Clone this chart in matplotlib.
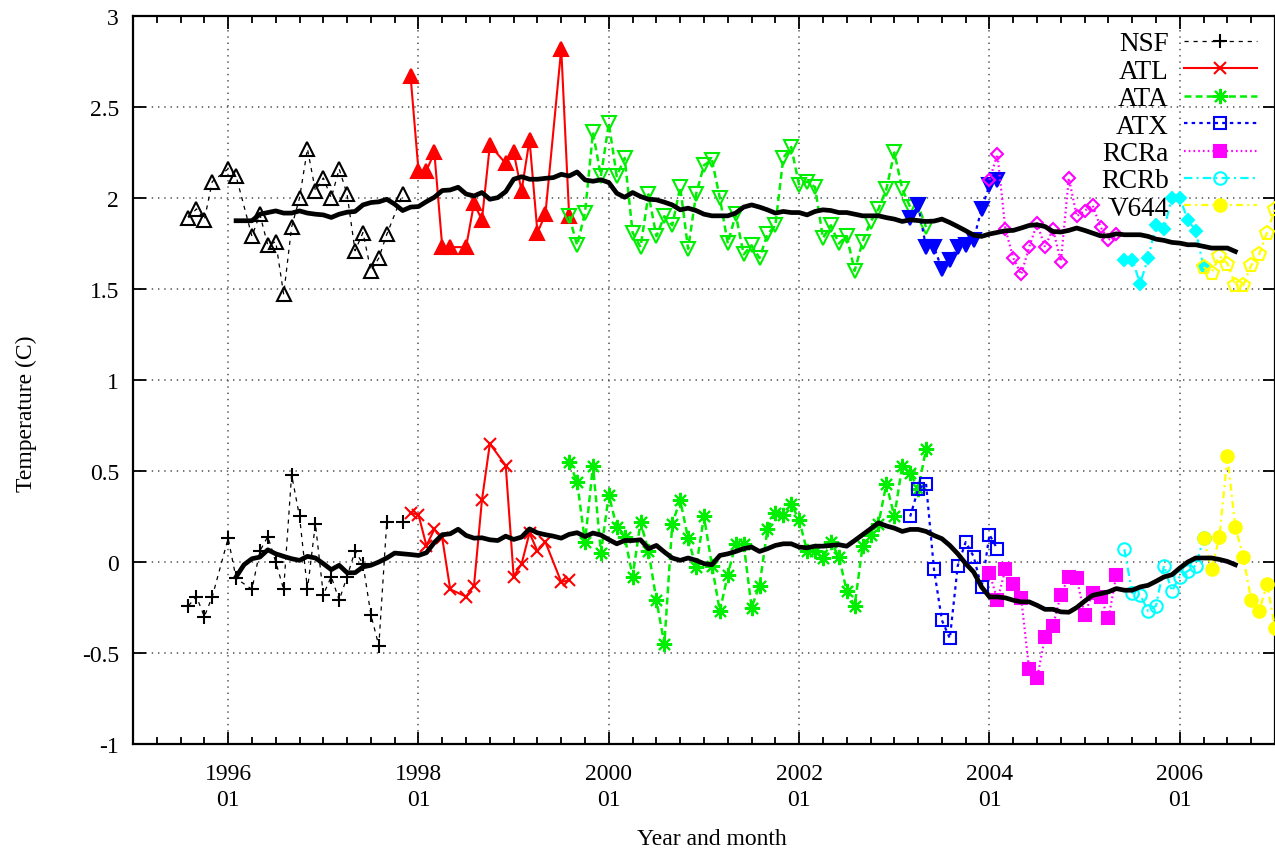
import numpy as np
import matplotlib.pyplot as plt
from matplotlib.ticker import MultipleLocator, FormatStrFormatter

plt.rcParams['font.family'] = ['Liberation Serif', 'DejaVu Serif']
plt.rcParams['lines.scale_dashes'] = False

# months counted from 1996-01 (0 = Jan 1996)
nsf_months = [-5, -4, -3, -2, 0, 1, 3, 4, 5, 6, 7, 8, 9, 10, 11, 12, 13, 14, 15, 16, 17, 18, 19, 20, 22]
nsf_low = [-0.24, -0.19, -0.30, -0.19, 0.13, -0.09, -0.15, 0.06, 0.14, 0.00, -0.15, 0.48, 0.25, -0.15,
           0.21, -0.18, -0.08, -0.21, -0.08, 0.06, -0.01, -0.29, -0.46, 0.22, 0.22]
nsf_high = [1.89, 1.94, 1.88, 2.09, 2.16, 2.12, 1.79, 1.91, 1.74, 1.76, 1.47, 1.84, 2.00, 2.27,
            2.04, 2.11, 2.00, 2.16, 2.02, 1.71, 1.81, 1.60, 1.67, 1.80, 2.02]

atl_months = [23, 24, 25, 26, 27, 28, 30, 31, 32, 33, 35, 36, 37, 38, 39, 40, 42, 43]
atl_low = [0.27, 0.26, 0.09, 0.18, 0.13, -0.15, -0.19, -0.13, 0.34, 0.65, 0.53, -0.08, -0.01, 0.16,
           0.06, 0.11, -0.11, -0.10]
atl_high = [2.67, 2.15, 2.15, 2.25, 1.73, 1.73, 1.73, 1.97, 1.88, 2.29, 2.19, 2.25, 2.04, 2.32,
            1.81, 1.91, 2.82, 1.90]

ata_months = list(range(43, 89))
ata_low = [0.55, 0.44, 0.11, 0.53, 0.05, 0.37, 0.19, 0.14, -0.08, 0.22, 0.06, -0.21, -0.45, 0.21,
           0.34, 0.13, -0.03, 0.25, -0.02, -0.27, -0.07, 0.10, 0.10, -0.25, -0.13, 0.18, 0.27, 0.26,
           0.32, 0.23, 0.06, 0.06, 0.02, 0.11, 0.03, -0.16, -0.24, 0.09, 0.15, 0.21, 0.43, 0.25,
           0.53, 0.49, 0.40, 0.62]
ata_high = [1.90, 1.74, 1.92, 2.36, 2.12, 2.41, 2.12, 2.22, 1.81, 1.73, 2.02, 1.79, 1.90, 1.85,
            2.06, 1.72, 2.02, 2.18, 2.21, 2.00, 1.75, 1.91, 1.69, 1.74, 1.67, 1.80, 1.85, 2.22,
            2.28, 2.07, 2.09, 2.06, 1.78, 1.85, 1.75, 1.79, 1.60, 1.76, 1.87, 1.94, 2.05, 2.25,
            2.05, 1.95, 1.96, 1.84]

atx_months = list(range(86, 98))
atx_low = [0.25, 0.40, 0.43, -0.04, -0.32, -0.42, -0.02, 0.11, 0.03, -0.14, 0.15, 0.07]
atx_high = [1.89, 1.96, 1.73, 1.73, 1.61, 1.66, 1.73, 1.74, 1.77, 1.94, 2.07, 2.10]

rcra_months = list(range(96, 113))
rcra_low = [-0.06, -0.21, -0.04, -0.12, -0.20, -0.59, -0.64, -0.41, -0.35, -0.18, -0.08, -0.09,
            -0.29, -0.17, -0.19, -0.31, -0.07]
rcra_high = [2.10, 2.24, 1.83, 1.67, 1.58, 1.73, 1.86, 1.73, 1.83, 1.65, 2.11, 1.90, 1.93, 1.96,
             1.84, 1.77, 1.80]

rcrb_months = list(range(113, 124))
rcrb_low = [0.07, -0.17, -0.18, -0.27, -0.24, -0.02, -0.16, -0.08, -0.05, -0.02, 0.13]
rcrb_high = [1.66, 1.66, 1.53, 1.67, 1.85, 1.83, 2.00, 2.00, 1.88, 1.82, 1.62]

v644_months = list(range(123, 133))
v644_low = [0.13, -0.04, 0.14, 0.58, 0.19, 0.03, -0.21, -0.27, -0.12, -0.36]
v644_high = [1.62, 1.59, 1.68, 1.64, 1.52, 1.52, 1.63, 1.69, 1.81, 1.94]

# running means, months 1..127
mean_months = list(range(1, 128))
mean_high = [1.875, 1.875, 1.875, 1.911, 1.920, 1.929, 1.917, 1.917, 1.929, 1.917, 1.911, 1.907,
             1.893, 1.911, 1.922, 1.926, 1.962, 1.975, 1.979, 1.993, 1.966, 1.931, 1.950, 1.953,
             1.980, 2.004, 2.041, 2.044, 2.059, 2.022, 2.011, 2.030, 1.993, 2.002, 2.035, 2.103,
             2.117, 2.103, 2.103, 2.108, 2.112, 2.130, 2.121, 2.143, 2.099, 2.092, 2.100, 2.085,
             2.026, 2.004, 2.030, 2.008, 1.993, 1.990, 1.977, 1.962, 1.935, 1.944, 1.931, 1.911,
             1.902, 1.902, 1.902, 1.917, 1.950, 1.962, 1.950, 1.935, 1.917, 1.926, 1.920, 1.920,
             1.907, 1.926, 1.935, 1.931, 1.920, 1.920, 1.911, 1.902, 1.902, 1.902, 1.892, 1.884,
             1.871, 1.880, 1.876, 1.871, 1.873, 1.884, 1.865, 1.843, 1.820, 1.796, 1.789, 1.802,
             1.811, 1.820, 1.822, 1.835, 1.849, 1.853, 1.843, 1.816, 1.813, 1.822, 1.835, 1.822,
             1.807, 1.792, 1.792, 1.803, 1.798, 1.798, 1.798, 1.789, 1.774, 1.767, 1.756, 1.752,
             1.743, 1.743, 1.734, 1.725, 1.725, 1.725, 1.706]
mean_low = [-0.082, -0.015, 0.018, 0.027, 0.067, 0.045, 0.031, 0.018, 0.009, 0.031, 0.022, -0.009,
            -0.042, -0.018, -0.059, -0.059, -0.027, -0.018, 0.000, 0.022, 0.049, 0.045, 0.041,
            0.036, 0.051, 0.107, 0.150, 0.155, 0.180, 0.146, 0.131, 0.133, 0.122, 0.118, 0.142,
            0.124, 0.137, 0.182, 0.160, 0.150, 0.142, 0.131, 0.152, 0.161, 0.140, 0.159, 0.148,
            0.123, 0.100, 0.118, 0.118, 0.122, 0.073, 0.091, 0.055, 0.022, 0.009, 0.022, 0.009,
            -0.009, -0.015, 0.036, 0.045, 0.058, 0.073, 0.082, 0.058, 0.073, 0.091, 0.100, 0.100,
            0.082, 0.078, 0.087, 0.087, 0.091, 0.095, 0.087, 0.118, 0.150, 0.182, 0.215, 0.198,
            0.186, 0.168, 0.179, 0.179, 0.168, 0.146, 0.128, 0.091, 0.045, -0.009, -0.055, -0.137,
            -0.192, -0.192, -0.197, -0.210, -0.219, -0.219, -0.238, -0.260, -0.260, -0.274, -0.276,
            -0.250, -0.215, -0.183, -0.174, -0.164, -0.146, -0.155, -0.155, -0.137, -0.128, -0.106,
            -0.082, -0.070, -0.033, 0.000, 0.022, 0.022, 0.022, 0.014, 0.003, -0.015]


def to_year(months):
    return 1996 + np.asarray(months) / 12.0


fig = plt.figure(figsize=(12.75, 8.53), dpi=100)
ax = fig.add_axes([0.1043, 0.1266, 0.8957, 0.8535])

# name, months, low, high, color, linestyle, lw, low marker, low filled, high marker, high filled
series = [
    ('NSF', nsf_months, nsf_low, nsf_high, 'black', (0, (3, 3.5)), 0.9, '+', True, '^', False),
    ('ATL', atl_months, atl_low, atl_high, '#ff0000', '-', 1.5, 'x', True, '^', True),
    ('ATA', ata_months, ata_low, ata_high, '#00ee00', (0, (5, 3)), 1.8, (8, 2, 0), True, 'v', False),
    ('ATX', atx_months, atx_low, atx_high, '#0000ff', (0, (2.5, 3)), 1.6, 's', False, 'v', True),
    ('RCRa', rcra_months, rcra_low, rcra_high, '#ff00ff', (0, (1.2, 2.2)), 1.6, 's', True, 'D', False),
    ('RCRb', rcrb_months, rcrb_low, rcrb_high, '#00ffff', (0, (6, 3, 1.5, 3)), 1.6, 'o', False, 'D', True),
    ('V644', v644_months, v644_low, v644_high, '#ffff00', (0, (5, 3, 1.5, 3)), 1.6, 'o', True, 'p', False),
]

sizes = {'+': 10, 'x': 9, (8, 2, 0): 11, 's': 9, 'o': 9, '^': 9.5, 'v': 9.5, 'D': 6.5, 'p': 10}

handles = []
for name, months, low, high, color, ls, lw, mlo, flo, mhi, fhi in series:
    x = to_year(months)
    h, = ax.plot(x, low, color=color, linestyle=ls, lw=lw, marker=mlo, ms=sizes[mlo],
                 mew=1.5, mfc=color if flo else 'none', mec=color, label=name, zorder=3)
    ax.plot(x, high, color=color, linestyle=ls, lw=lw, marker=mhi, ms=sizes[mhi],
            mew=1.5, mfc=color if fhi else 'none', mec=color, zorder=3)
    handles.append(h)

ax.plot(to_year(mean_months), mean_high, color='black', lw=3.4, zorder=4)
ax.plot(to_year(mean_months), mean_low, color='black', lw=3.4, zorder=4)

ax.set_xlim(1995, 2007)
ax.set_ylim(-1, 3)
ax.set_xticks(range(1996, 2007, 2))
ax.set_xticklabels(['%d\n01' % y for y in range(1996, 2007, 2)], linespacing=1.3)
ax.xaxis.set_minor_locator(MultipleLocator(0.25))
ax.yaxis.set_major_locator(MultipleLocator(0.5))
ax.yaxis.set_major_formatter(FormatStrFormatter('%g'))

ax.tick_params(which='both', direction='in', top=True, right=True, labelsize=17, width=1.3)
ax.tick_params(which='major', length=9, pad=10)
ax.tick_params(axis='x', which='major', pad=14)
ax.tick_params(which='minor', length=5)
for s in ax.spines.values():
    s.set_linewidth(1.6)

ax.grid(True, which='major', color='0.3', linestyle=(0, (1, 3.5)), lw=1.1, zorder=0)

ax.set_xlabel('Year and month', fontsize=17)
ax.set_ylabel('Temperature (C)', fontsize=17)
ax.xaxis.set_label_coords(0.507, -0.115)
ax.yaxis.set_label_coords(-0.084, 0.455)

ax.legend(handles=handles, loc='upper right', bbox_to_anchor=(0.984, 0.979), markerfirst=False,
          frameon=False, fontsize=19.5, handlelength=2.7, handletextpad=0.55, labelspacing=0.09,
          borderpad=0, borderaxespad=0, numpoints=1)

fig.savefig('out.png', dpi=100)
